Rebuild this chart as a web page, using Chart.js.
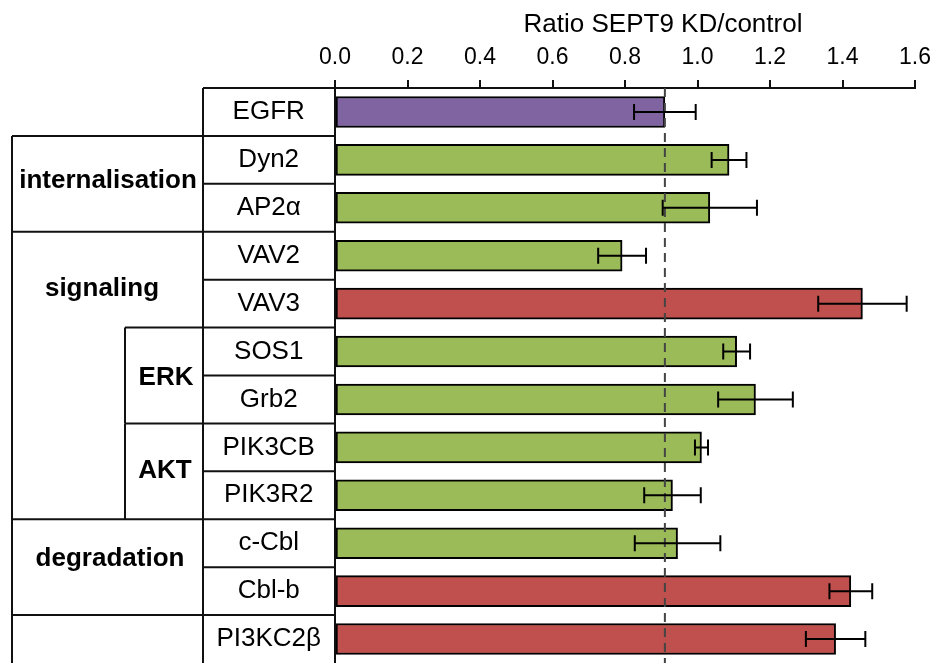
<!DOCTYPE html>
<html>
<head>
<meta charset="utf-8">
<script src="https://cdn.jsdelivr.net/npm/chart.js@4.4.0/dist/chart.umd.min.js"></script>
<style>
  html, body { margin: 0; padding: 0; background: #fff; overflow: hidden; }
  #wrap { position: relative; width: 936px; height: 663px; }
</style>
</head>
<body>
<div id="wrap"><canvas id="chart"></canvas></div>
<script>
// genes, ratio (SEPT9 KD / control) and error
const genes = ["EGFR", "Dyn2", "AP2α", "VAV2", "VAV3", "SOS1", "Grb2", "PIK3CB", "PIK3R2", "c-Cbl", "Cbl-b", "PI3KC2β"];
const ratios = [0.91, 1.087, 1.034, 0.792, 1.455, 1.108, 1.160, 1.011, 0.931, 0.945, 1.423, 1.381];
const errors = [0.085, 0.048, 0.130, 0.066, 0.122, 0.037, 0.103, 0.018, 0.078, 0.118, 0.059, 0.082];
const barColors = ["#8064A2", "#9BBB59", "#9BBB59", "#9BBB59", "#C0504D", "#9BBB59",
                   "#9BBB59", "#9BBB59", "#9BBB59", "#9BBB59", "#C0504D", "#C0504D"];
const xMin = 0;
const xMax = 1.6;
const xStep = 0.2;
const referenceLine = 0.91;
const axisTitle = "Ratio SEPT9 KD/control";

// group brackets on the left: name, first row, last row, outer/inner, label anchor (row units)
const groupNames = ["internalisation", "signaling", "ERK", "AKT", "degradation", ""];
const groupFirst = [1, 3, 5, 7, 9, 11];
const groupLast = [2, 8, 6, 8, 10, 11];
const groupInner = [false, false, true, true, false, false];
const groupLabelRow = [1.43, 3.69, 5.54, 7.48, 9.33, 11];
const groupLabelX = [108, 102, 166, 165, 110, 0];

const OUTER_X = 12;
const INNER_X = 125;
const LABEL_X = 203;

const tablePlugin = {
  id: "table",
  afterDraw(chart) {
    const ctx = chart.ctx;
    const y = chart.scales.y;
    const x = chart.scales.x;
    const area = chart.chartArea;
    const edge = i => y.getPixelForValue(i - 0.5);
    const bottom = chart.height + 2;

    ctx.save();
    ctx.strokeStyle = "#111";
    ctx.lineWidth = 2;
    ctx.lineCap = "butt";

    function line(x1, y1, x2, y2) {
      ctx.beginPath();
      ctx.moveTo(x1, y1);
      ctx.lineTo(x2, y2);
      ctx.stroke();
    }

    // row separators in the label column
    for (let i = 0; i < genes.length; i++) {
      line(LABEL_X, edge(i), area.left, edge(i));
    }
    line(LABEL_X, edge(0), LABEL_X, bottom);

    // group brackets
    groupNames.forEach((name, g) => {
      const left = groupInner[g] ? INNER_X : OUTER_X;
      line(left, edge(groupFirst[g]), LABEL_X, edge(groupFirst[g]));
      if (groupInner[g]) {
        line(INNER_X, edge(groupFirst[g]), INNER_X, edge(groupLast[g] + 1));
      }
    });
    line(OUTER_X, edge(groupFirst[0]), OUTER_X, bottom);

    ctx.fillStyle = "#000";
    ctx.font = "bold 26px 'Liberation Sans', Arial, sans-serif";
    ctx.textAlign = "center";
    ctx.textBaseline = "middle";
    groupNames.forEach((name, g) => {
      if (!name) return;
      ctx.fillText(name, groupLabelX[g], y.getPixelForValue(groupLabelRow[g]));
    });

    // axis title
    ctx.font = "26px 'Liberation Sans', Arial, sans-serif";
    ctx.fillText(axisTitle, x.getPixelForValue(0.8) + 38, 25);
    ctx.restore();
  }
};

const errorBarPlugin = {
  id: "errorBars",
  afterDatasetsDraw(chart) {
    const ctx = chart.ctx;
    const x = chart.scales.x;
    const area = chart.chartArea;
    const meta = chart.getDatasetMeta(0);

    ctx.save();
    // dashed reference line
    ctx.strokeStyle = "#444";
    ctx.lineWidth = 2;
    ctx.setLineDash([9, 6]);
    const rx = x.getPixelForValue(referenceLine);
    ctx.beginPath();
    ctx.moveTo(rx, area.top);
    ctx.lineTo(rx, chart.height);
    ctx.stroke();
    ctx.setLineDash([]);

    ctx.strokeStyle = "#000";
    ctx.lineWidth = 2;
    meta.data.forEach((bar, i) => {
      const lo = x.getPixelForValue(ratios[i] - errors[i]);
      const hi = x.getPixelForValue(ratios[i] + errors[i]);
      const cy = bar.y;
      ctx.beginPath();
      ctx.moveTo(lo, cy);
      ctx.lineTo(hi, cy);
      ctx.moveTo(lo, cy - 8);
      ctx.lineTo(lo, cy + 8);
      ctx.moveTo(hi, cy - 8);
      ctx.lineTo(hi, cy + 8);
      ctx.stroke();
    });
    ctx.restore();
  }
};

new Chart(document.getElementById("chart"), {
  type: "bar",
  data: {
    labels: genes,
    datasets: [{
      data: ratios,
      backgroundColor: barColors,
      borderColor: "#000",
      borderWidth: 2,
      borderSkipped: false,
      barThickness: 31
    }]
  },
  options: {
    indexAxis: "y",
    responsive: true,
    maintainAspectRatio: false,
    animation: false,
    layout: { padding: { left: LABEL_X, right: 21, top: 0, bottom: 0 } },
    plugins: {
      legend: { display: false },
      tooltip: { enabled: false }
    },
    scales: {
      x: {
        position: "top",
        min: xMin,
        max: xMax,
        afterFit: s => {
          s.height = 88;
          s.paddingLeft = 0;
          s.paddingRight = 0;
        },
        afterBuildTicks: s => {
          const t = [];
          for (let v = xMin; v <= xMax + 1e-9; v += xStep) t.push({ value: +v.toFixed(1) });
          s.ticks = t;
        },
        ticks: {
          color: "#000",
          padding: 9,
          maxRotation: 0,
          font: { family: "'Liberation Sans', Arial, sans-serif", size: 23 },
          callback: v => Number(v).toFixed(1)
        },
        grid: {
          drawOnChartArea: false,
          drawTicks: true,
          tickLength: 8,
          color: "#111",
          lineWidth: 2
        },
        border: { display: true, color: "#111", width: 2 }
      },
      y: {
        afterFit: s => {
          s.width = 132;
          s.paddingTop = 0;
          s.paddingBottom = 0;
        },
        ticks: {
          color: "#000",
          crossAlign: "center",
          padding: 6,
          autoSkip: false,
          font: { family: "'Liberation Sans', Arial, sans-serif", size: 26 }
        },
        grid: { display: false },
        border: { display: true, color: "#111", width: 2 }
      }
    }
  },
  plugins: [tablePlugin, errorBarPlugin]
});
</script>
</body>
</html>
